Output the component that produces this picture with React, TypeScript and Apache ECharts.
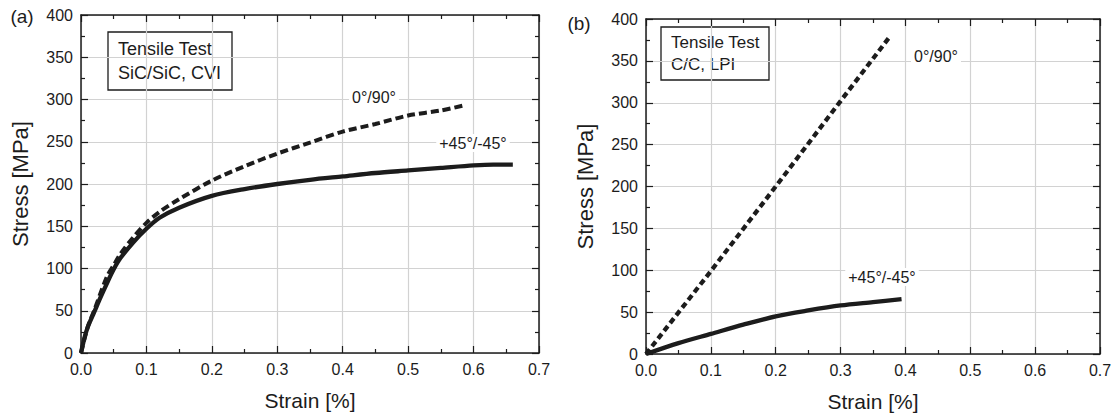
import React, { useEffect, useRef } from "react";
import * as echarts from "echarts";

// Panel (a) SiC/SiC, CVI
const aSolidStrain = [0, 0.005, 0.01, 0.02, 0.03, 0.04, 0.05, 0.06, 0.08, 0.1, 0.12, 0.15, 0.2, 0.25, 0.3, 0.35, 0.4, 0.45, 0.5, 0.55, 0.6, 0.63, 0.66];
const aSolidStress = [0, 17, 30, 48, 66, 83, 99, 112, 131, 147, 160, 172, 186, 194, 200, 205, 209, 213, 216, 219, 222, 223, 223];
const aDashStrain = [0, 0.01, 0.02, 0.04, 0.05, 0.06, 0.08, 0.1, 0.12, 0.15, 0.2, 0.25, 0.3, 0.35, 0.4, 0.45, 0.5, 0.55, 0.585];
const aDashStress = [0, 30, 50, 91, 104, 117, 137, 154, 167, 182, 204, 221, 236, 249, 262, 271, 281, 287, 293];

// Panel (b) C/C, LPI
const bDashStrain = [0, 0.1, 0.2, 0.3, 0.375];
const bDashStress = [0, 99, 200, 302, 378];
const bSolidStrain = [0, 0.05, 0.1, 0.15, 0.2, 0.25, 0.3, 0.35, 0.394];
const bSolidStress = [0, 13, 24, 35, 45, 52, 58, 62, 65.5];

const xTicks = [0, 0.1, 0.2, 0.3, 0.4, 0.5, 0.6, 0.7];
const yTicks = [0, 50, 100, 150, 200, 250, 300, 350, 400];

const xLabel = "Strain [%]";
const yLabel = "Stress [MPa]";
const dashLabel = "0°/90°";
const solidLabel = "+45°/-45°";

const FONT = "Liberation Sans, Arial, sans-serif";
const INK = "#1c1c1c";

const pairs = (xs: number[], ys: number[]) => xs.map((x, i) => [x, ys[i]]);

function xAxes(gridIndex: number) {
  const base = {
    type: "value" as const,
    gridIndex,
    min: xTicks[0],
    max: xTicks[xTicks.length - 1],
    interval: 0.1,
    axisLine: { show: true, onZero: false, lineStyle: { color: INK, width: 1.5 } },
    axisTick: { show: true, inside: true, length: 7, lineStyle: { color: INK, width: 1.2 } },
    minorTick: { show: true, splitNumber: 2, length: 4, lineStyle: { color: INK, width: 1.2 } },
  };
  return [
    {
      ...base,
      position: "bottom",
      name: xLabel,
      nameLocation: "middle",
      nameGap: 37,
      nameTextStyle: { fontFamily: FONT, fontSize: 21, color: INK },
      axisLabel: { fontFamily: FONT, fontSize: 16, color: INK, margin: 8, formatter: (v: number) => v.toFixed(1) },
      splitLine: { show: true, lineStyle: { color: "#d2d2d2", width: 1.2 } },
    },
    {
      ...base,
      position: "top",
      axisLabel: { show: false },
      splitLine: { show: false },
    },
  ];
}

function yAxes(gridIndex: number) {
  const base = {
    type: "value" as const,
    gridIndex,
    min: yTicks[0],
    max: yTicks[yTicks.length - 1],
    interval: 50,
    axisLine: { show: true, onZero: false, lineStyle: { color: INK, width: 1.5 } },
    axisTick: { show: true, inside: true, length: 7, lineStyle: { color: INK, width: 1.2 } },
    minorTick: { show: true, splitNumber: 2, length: 4, lineStyle: { color: INK, width: 1.2 } },
  };
  return [
    {
      ...base,
      position: "left",
      name: yLabel,
      nameLocation: "middle",
      nameGap: 50,
      nameRotate: 90,
      nameTextStyle: { fontFamily: FONT, fontSize: 22, color: INK },
      axisLabel: { fontFamily: FONT, fontSize: 16, color: INK, margin: 8 },
      splitLine: { show: true, lineStyle: { color: "#d2d2d2", width: 1.2 } },
    },
    {
      ...base,
      position: "right",
      axisLabel: { show: false },
      splitLine: { show: false },
    },
  ];
}

function box(x: number, y: number, w: number, h: number, lines: string[], fs: number, lh: number) {
  return {
    type: "group",
    z: 20,
    children: [
      {
        type: "rect",
        shape: { x, y, width: w, height: h },
        style: { fill: "#fff", stroke: INK, lineWidth: 1.3 },
      },
      ...lines.map((t, i) => ({
        type: "text",
        x: x + 10,
        y: y + h / 2 + (i - (lines.length - 1) / 2) * lh,
        style: { text: t, font: `${fs}px ${FONT}`, fill: INK, align: "left", verticalAlign: "middle" },
      })),
    ],
  };
}

function label(text: string, x: number, y: number, fs = 16) {
  return {
    type: "text",
    z: 20,
    x,
    y,
    style: {
      text,
      font: `${fs}px ${FONT}`,
      fill: INK,
      align: "center",
      verticalAlign: "middle",
      backgroundColor: "#fff",
      padding: [1, 3],
    },
  };
}

export default function App() {
  const ref = useRef<HTMLDivElement>(null);
  useEffect(() => {
    if (!ref.current) return;
    const chart = echarts.init(ref.current, undefined, { renderer: "svg" });
    const solid = { color: INK, width: 4.3 };
    chart.setOption({
      animation: false,
      backgroundColor: "#fff",
      grid: [
        { left: 81, right: 576, top: 15, bottom: 64 },
        { left: 646, right: 15, top: 19, bottom: 63 },
      ],
      xAxis: [...xAxes(0), ...xAxes(1)],
      yAxis: [...yAxes(0), ...yAxes(1)],
      series: [
        { type: "line", xAxisIndex: 0, yAxisIndex: 0, data: pairs(aDashStrain, aDashStress), showSymbol: false, smooth: 0.3, lineStyle: { color: INK, width: 4, type: [8, 4] } },
        { type: "line", xAxisIndex: 0, yAxisIndex: 0, data: pairs(aSolidStrain, aSolidStress), showSymbol: false, smooth: 0.3, lineStyle: solid },
        { type: "line", xAxisIndex: 2, yAxisIndex: 2, data: pairs(bDashStrain, bDashStress), showSymbol: false, lineStyle: { color: INK, width: 4.3, type: [6, 3.8] } },
        { type: "line", xAxisIndex: 2, yAxisIndex: 2, data: pairs(bSolidStrain, bSolidStress), showSymbol: false, smooth: 0.3, lineStyle: solid },
      ],
      graphic: [
        { type: "text", x: 22, y: 16, style: { text: "(a)", font: `19px ${FONT}`, fill: INK, align: "center", verticalAlign: "middle" } },
        { type: "text", x: 579, y: 23, style: { text: "(b)", font: `19px ${FONT}`, fill: INK, align: "center", verticalAlign: "middle" } },
        box(108, 32, 124, 58, ["Tensile Test", "SiC/SiC, CVI"], 18, 24),
        box(661, 27, 108, 53, ["Tensile Test", "C/C, LPI"], 17, 22),
        label(dashLabel, 374, 97),
        label(solidLabel, 473, 143),
        label(dashLabel, 936, 56),
        label(solidLabel, 882, 277),
      ],
    });
    return () => chart.dispose();
  }, []);
  return <div ref={ref} style={{ position: "absolute", left: 0, top: 0, width: 1115, height: 417 }} />;
}
